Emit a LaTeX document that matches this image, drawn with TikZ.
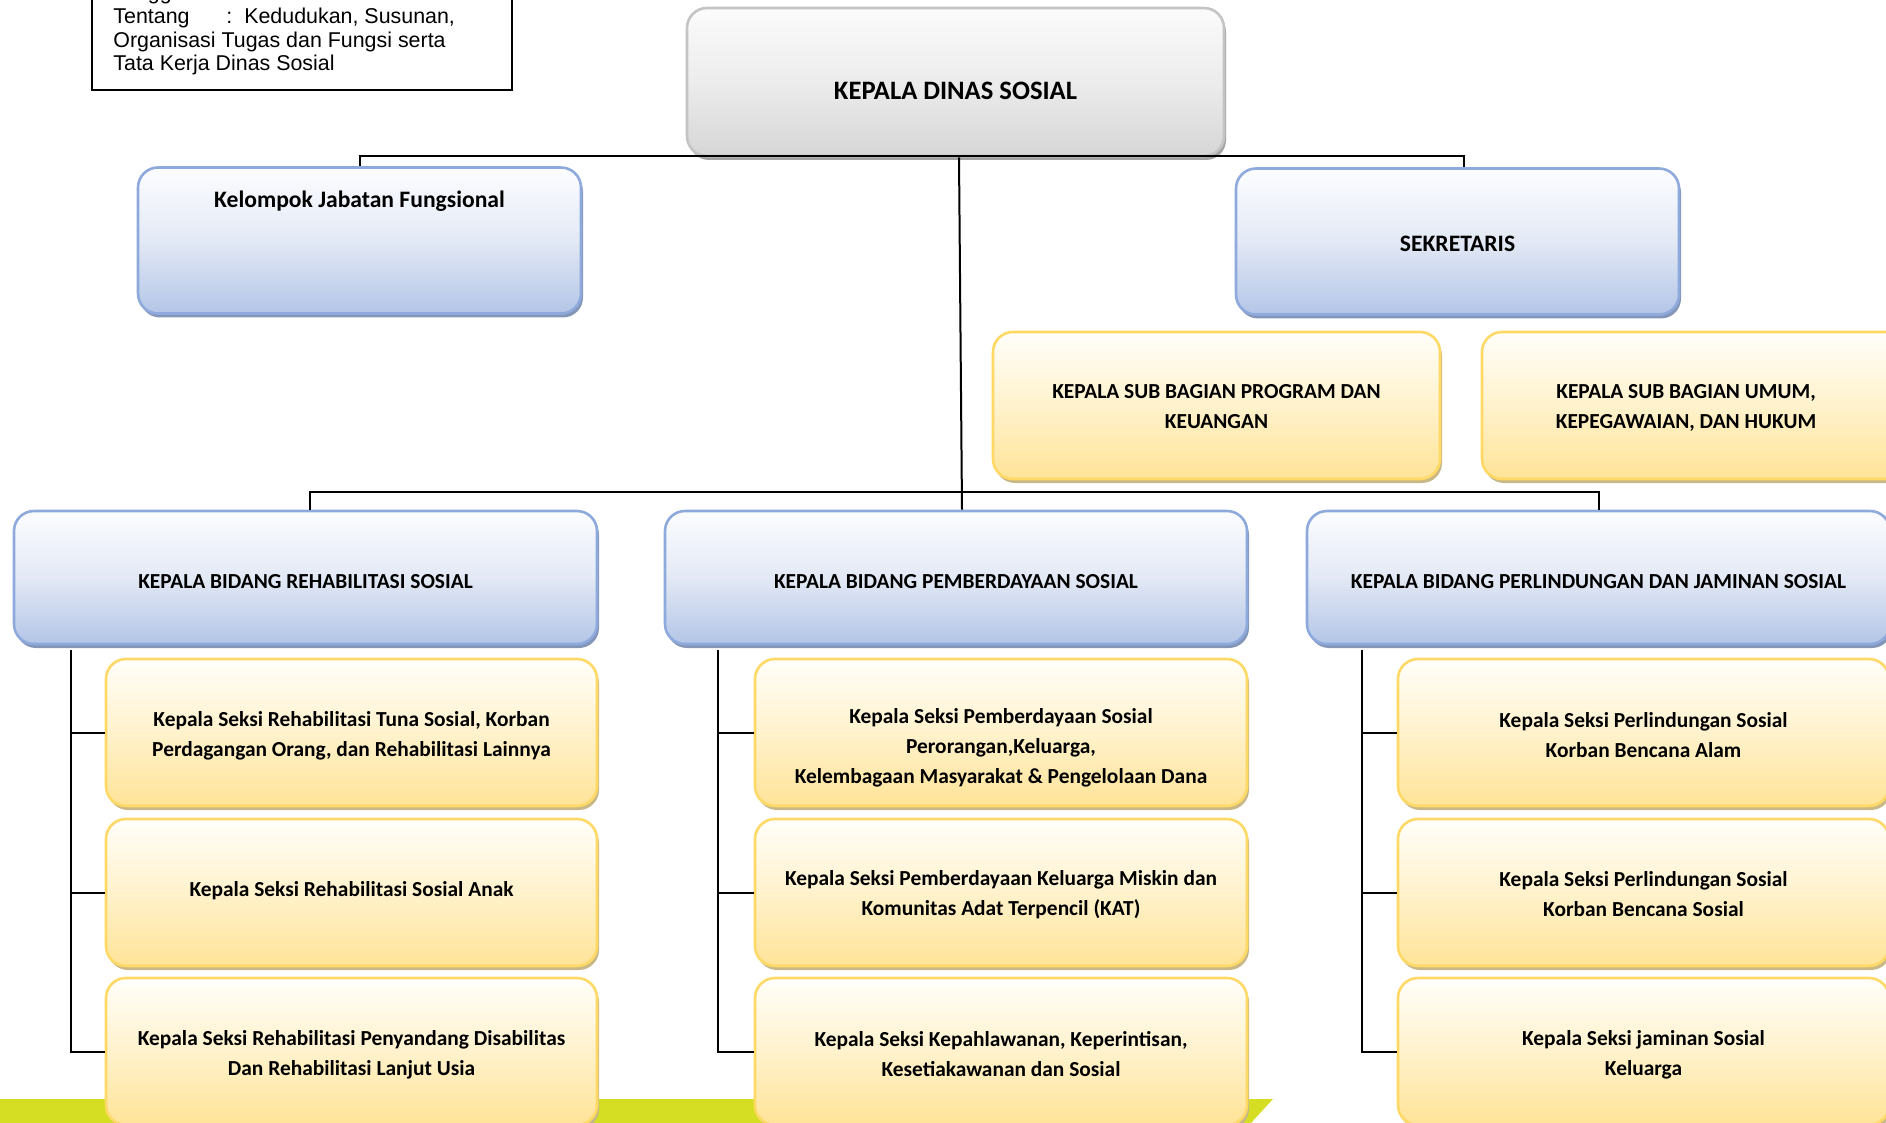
\documentclass[tikz,border=0pt]{standalone}
\usepackage{fontspec}
\setmainfont{Carlito}
\newfontfamily\arialfont{Liberation Sans}
\usetikzlibrary{shadows}
\definecolor{bluetop}{HTML}{FCFDFF}
\definecolor{bluemid}{HTML}{E3E9F5}
\definecolor{bluebot}{HTML}{B3C5E7}
\definecolor{blueedge}{HTML}{8EAADC}
\definecolor{blueshadow}{HTML}{8496B8}
\definecolor{yeltop}{HTML}{FFFEFA}
\definecolor{yelmid}{HTML}{FFF2CC}
\definecolor{yelbot}{HTML}{FFE397}
\definecolor{yeledge}{HTML}{FFD966}
\definecolor{yelshadow}{HTML}{C8B888}
\definecolor{graytop}{HTML}{FBFBFB}
\definecolor{graymid}{HTML}{ECECEC}
\definecolor{graybot}{HTML}{D6D6D6}
\definecolor{grayedge}{HTML}{C4C4C4}
\definecolor{grayshadow}{HTML}{A3A3A3}
\definecolor{barcolor}{HTML}{D5DE23}
\tikzset{
  box/.style={rounded corners=10pt, line width=1.3pt, inner sep=0pt, align=center,
    font=\bfseries\fontsize{10.7}{15}\selectfont},
  sz/.style 2 args={minimum width=#1*0.5pt, minimum height=#2*0.5pt},
  tdown/.style={execute at begin node={\rule{0pt}{#1}}},
  bluebox/.style={box, draw=blueedge, top color=bluetop, bottom color=bluebot, middle color=bluemid,
    general shadow={fill=blueshadow, shadow xshift=1pt, shadow yshift=-2pt}},
  yelbox/.style={box, draw=yeledge, top color=yeltop, bottom color=yelbot, middle color=yelmid,
    general shadow={fill=yelshadow, shadow xshift=1pt, shadow yshift=-2pt}},
  graybox/.style={box, draw=grayedge, top color=graytop, bottom color=graybot, middle color=graymid,
    general shadow={fill=grayshadow, shadow xshift=1pt, shadow yshift=-2pt}},
  boxtext/.style={inner sep=0pt, align=center, font=\bfseries\fontsize{10.7}{15}\selectfont},
  infotext/.style={inner sep=0pt, anchor=base west, font=\arialfont\fontsize{10.7}{11.75}\selectfont},
  conn/.style={line width=1pt, black},
}
\begin{document}
\begin{tikzpicture}[x=0.5pt,y=-0.5pt]
\useasboundingbox (0,0) rectangle (1886,1123);
\clip (0,0) rectangle (1886,1123);
% green bar
\fill[barcolor] (0,1099) -- (1273,1099) -- (1251,1123) -- (0,1123) -- cycle;
% info box
\draw[line width=1.1pt] (92,-20) rectangle (512,90);
\node[infotext] (info0) at (113,-0.5) {Tanggal};
\node[infotext] (info1) at (113,23.5) {\makebox[56.5pt][l]{Tentang}:\hspace{6pt}Kedudukan, Susunan,};
\node[infotext] (info2) at (113,47.5) {Organisasi Tugas dan Fungsi serta};
\node[infotext] (info3) at (113,71) {Tata Kerja Dinas Sosial};
% top
\node[graybox, sz={537}{148}] (kadis) at (955.5,82) {};
\node[boxtext, font=\bfseries\fontsize{13.3}{16}\selectfont] (kadist) at (955.5,91) {KEPALA DINAS SOSIAL};
% second level
\node[bluebox, sz={443}{146}] (kjf) at (359.5,240.5) {};
\node[boxtext, font=\bfseries\fontsize{11.8}{15}\selectfont] (kjft) at (359.5,201) {Kelompok Jabatan Fungsional};
\node[bluebox, sz={443}{146}, tdown=10.5pt, font=\bfseries\fontsize{11.8}{15}\selectfont] (sek) at (1457.5,241.5) {SEKRETARIS};
% sub bagian
\node[yelbox, sz={447}{147}] (sbp) at (1216.5,405.5) {};
\node[boxtext] (sbpt) at (1216.5,407) {KEPALA SUB BAGIAN PROGRAM DAN\\KEUANGAN};
\node[yelbox, sz={447}{147}] (sbu) at (1705.5,405.5) {};
\node[boxtext] (sbut) at (1686,408) {KEPALA SUB BAGIAN UMUM,\\KEPEGAWAIAN, DAN HUKUM};
% bidang
\node[bluebox, sz={583}{133}, tdown=11pt] (rehab) at (305.5,577.5) {KEPALA BIDANG REHABILITASI SOSIAL};
\node[bluebox, sz={582}{133}, tdown=11pt] (pemb) at (956,577.5) {KEPALA BIDANG PEMBERDAYAAN SOSIAL};
\node[bluebox, sz={583}{133}, tdown=11pt] (perl) at (1598.5,577.5) {KEPALA BIDANG PERLINDUNGAN DAN JAMINAN SOSIAL};
% seksi boxes
\node[yelbox, sz={491}{147}] (s11) at (351.5,732.5) {};
\node[yelbox, sz={491}{147}] (s12) at (351.5,892.5) {};
\node[yelbox, sz={491}{147}] (s13) at (351.5,1051.5) {};
\node[yelbox, sz={492}{147}] (s21) at (1001,732.5) {};
\node[yelbox, sz={492}{147}] (s22) at (1001,892.5) {};
\node[yelbox, sz={492}{147}] (s23) at (1001,1051.5) {};
\node[yelbox, sz={491}{147}] (s31) at (1643.5,732.5) {};
\node[yelbox, sz={491}{147}] (s32) at (1643.5,892.5) {};
\node[yelbox, sz={491}{147}] (s33) at (1643.5,1051.5) {};
% seksi texts
\node[boxtext] (s11t) at (351.5,736) {Kepala Seksi Rehabilitasi Tuna Sosial, Korban\\Perdagangan Orang, dan Rehabilitasi Lainnya};
\node[boxtext] (s12t) at (351.5,890.5) {Kepala Seksi Rehabilitasi Sosial Anak};
\node[boxtext] (s13t) at (351.5,1055) {Kepala Seksi Rehabilitasi Penyandang Disabilitas\\Dan Rehabilitasi Lanjut Usia};
\node[boxtext] (s21t) at (1001,747.5) {Kepala Seksi Pemberdayaan Sosial\\Perorangan,Keluarga,\\Kelembagaan Masyarakat \& Pengelolaan Dana};
\node[boxtext] (s22t) at (1001,895) {Kepala Seksi Pemberdayaan Keluarga Miskin dan\\Komunitas Adat Terpencil (KAT)};
\node[boxtext] (s23t) at (1001,1054) {Kepala Seksi Kepahlawanan, Keperintisan,\\Kesetiakawanan dan Sosial};
\node[boxtext] (s31t) at (1643.5,735) {Kepala Seksi Perlindungan Sosial\\Korban Bencana Alam};
\node[boxtext] (s32t) at (1643.5,894) {Kepala Seksi Perlindungan Sosial\\Korban Bencana Sosial};
\node[boxtext] (s33t) at (1643.5,1055) {Kepala Seksi jaminan Sosial\\Keluarga};
% connectors top
\draw[conn] (kjf.north) -- ++(0,-10) -| ([xshift=3.25pt]sek.north);
\draw[conn] ([xshift=1.75pt]kadis.south) -- ([xshift=3pt]pemb.north);
\draw[conn] ([xshift=2.25pt]rehab.north) -- ++(0,-18) -| (perl.north);
% seksi connectors
\coordinate (c1) at ([xshift=-117.25pt,yshift=-2.5pt]rehab.south);
\coordinate (c2) at ([xshift=-119pt,yshift=-2.5pt]pemb.south);
\coordinate (c3) at ([xshift=-118.25pt,yshift=-2.5pt]perl.south);
\draw[conn] (c1) |- (s13.west);
\draw[conn] (s11.west) -- (s11.west -| c1);
\draw[conn] (s12.west) -- (s12.west -| c1);
\draw[conn] (c2) |- (s23.west);
\draw[conn] (s21.west) -- (s21.west -| c2);
\draw[conn] (s22.west) -- (s22.west -| c2);
\draw[conn] (c3) |- (s33.west);
\draw[conn] (s31.west) -- (s31.west -| c3);
\draw[conn] (s32.west) -- (s32.west -| c3);
\end{tikzpicture}
\end{document}
